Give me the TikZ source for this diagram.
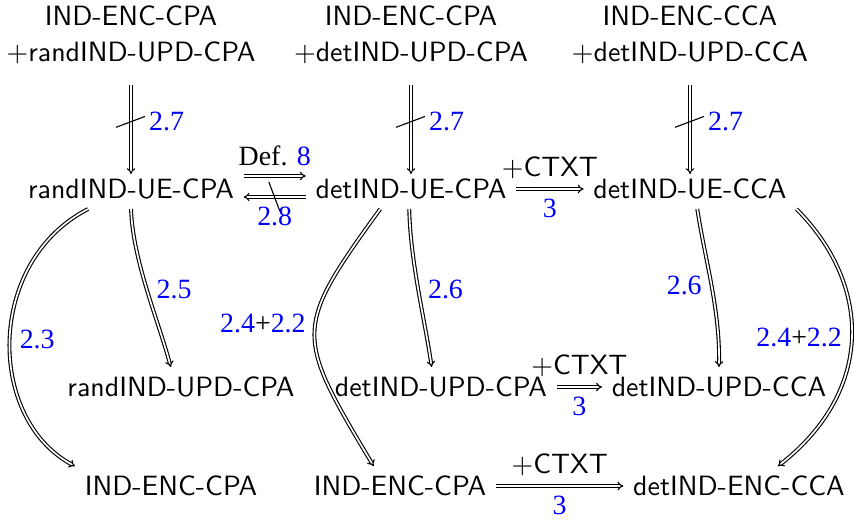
\documentclass[tikz,border=0pt]{standalone}
\usepackage{fontspec}
\setmainfont{Liberation Serif}
\usetikzlibrary{arrows.meta,decorations.markings}

\tikzset{
  game/.style={font=\sffamily},
  ref/.style={text=blue},
  impl/.style={double,-Implies},
  noimpl/.style={impl,postaction={decorate,decoration={markings,
      mark=at position 0.5 with {\draw[-,shorten <=0pt,shorten >=0pt] (2.1pt,-5.4pt) -- (-1.8pt,5pt);}}}}
}

\begin{document}
\begin{tikzpicture}[x=0.0126cm,y=-0.0126cm]
  \useasboundingbox (0,0) rectangle (854,521);
  % games
  \node[game,align=center] (top1) at (131,35) {IND-ENC-CPA\\[1pt]+randIND-UPD-CPA};
  \node[game,align=center] (top2) at (411,35) {IND-ENC-CPA\\[1pt]+detIND-UPD-CPA};
  \node[game,align=center] (top3) at (690,35) {IND-ENC-CCA\\[1pt]+detIND-UPD-CCA};
  \node[game] (rue) at (131,189) {randIND-UE-CPA};
  \node[game] (due) at (411,189) {detIND-UE-CPA};
  \node[game] (dueC) at (690,189) {detIND-UE-CCA};
  \node[game] (rupd) at (181,387) {randIND-UPD-CPA};
  \node[game] (dupd) at (441,387) {detIND-UPD-CPA};
  \node[game] (dupdC) at (719,387) {detIND-UPD-CCA};
  \node[game] (enc1) at (171,486) {IND-ENC-CPA};
  \node[game] (enc2) at (400,486) {IND-ENC-CPA};
  \node[game] (encC) at (739,486) {detIND-ENC-CCA};

  % separations
  \draw[noimpl,shorten <=4pt,shorten >=-1.8pt] (top1) -- (rue) node[midway,right=3pt,ref] {2.7};
  \draw[noimpl,shorten <=4pt,shorten >=-1.8pt] (top2) -- (due) node[midway,right=3pt,ref] {2.7};
  \draw[noimpl,shorten <=4pt,shorten >=-1.8pt] (top3) -- (dueC) node[midway,right=3pt,ref] {2.7};
  \draw[impl] ([shift={(0,-13)}]rue.east) -- ([shift={(0,-13)}]due.west)
    node[midway,above] {Def. \textcolor{blue}{8}};
  \draw[noimpl] ([shift={(0,8)}]due.west) -- ([shift={(0,8)}]rue.east)
    node[midway,below,ref] {2.8};

  % +CTXT steps
  \draw[impl] (due) -- (dueC) node[midway,above] {$+$\textsf{CTXT}} node[midway,below,ref] {3};
  \draw[impl] (dupd) -- (dupdC) node[midway,above] {$+$\textsf{CTXT}} node[midway,below,ref] {3};
  \draw[impl] (enc2) -- (encC) node[midway,above] {$+$\textsf{CTXT}} node[midway,below,ref] {3};

  % implications
  \draw[impl] (rue.205) .. controls +(-103,53) and +(-88,-47) .. (enc1.north west)
    node[midway,right,ref] {2.3};
  \draw[impl] (rue.south) .. controls +(2,52) and +(-13,-48) .. (rupd.117)
    node[midway,right,ref] {2.5};
  \draw[impl] (due.213) .. controls +(-87,120) and +(-79,-132) .. (enc2.143)
    node[pos=.45,left] {\textcolor{blue}{2.4}+\textcolor{blue}{2.2}};
  \draw[impl] (due.265) .. controls +(1,52) and +(-7,-48) .. (dupd.115)
    node[midway,right,ref] {2.6};
  \draw[impl] (dueC.290) .. controls +(8,52) and +(1,-58) .. (dupdC.north)
    node[midway,left,ref] {2.6};
  \draw[impl] (dueC.south east) .. controls +(75,75) and +(97,-76) .. (encC.27)
    node[midway,left] {\textcolor{blue}{2.4}+\textcolor{blue}{2.2}};
\end{tikzpicture}
\end{document}
